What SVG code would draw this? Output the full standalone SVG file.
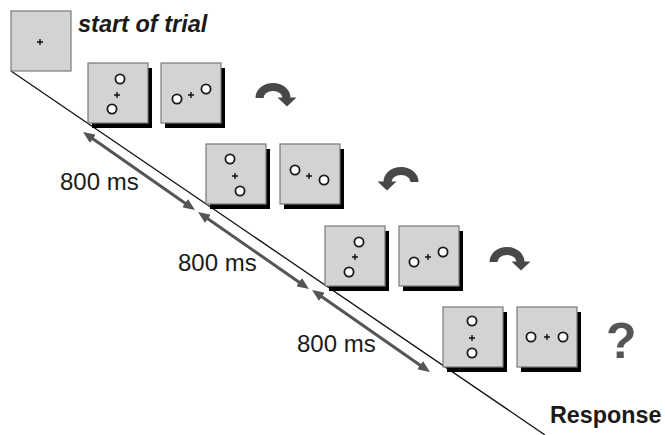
<svg xmlns="http://www.w3.org/2000/svg" width="665" height="435" viewBox="0 0 665 435">
<style>
.bg{fill:#ffffff}
.shadow{fill:#000000}
.box{fill:#d3d3d3;stroke:#7a7a7a;stroke-width:1.2}
.dot{fill:#ffffff;stroke:#1a1a1a;stroke-width:1.8}
.cross{stroke:#111111;stroke-width:1.4;fill:none}
.timeline{stroke:#111111;stroke-width:1.3;fill:none}
.dur{stroke:#555555;stroke-width:3;fill:none}
.turn{stroke:#484848;stroke-width:8;fill:none}
.turnhead{fill:#484848}
.lbl{font-family:"Liberation Sans",Arial,sans-serif;fill:#1a1a1a}
</style>
<defs>
<marker id="ah" markerUnits="userSpaceOnUse" markerWidth="12" markerHeight="10" refX="4" refY="5" orient="auto-start-reverse" viewBox="0 0 12 10">
<path d="M0,0 L12,5 L0,10 z" fill="#555555"/>
</marker>
<g id="turn">
<path class="turn" d="M -13.5 0 A 13.5 11 0 0 1 13.5 0"/>
<polygon class="turnhead" points="4.5,-0.5 23.5,-0.5 14,8.5"/>
</g>
<g id="cr"><path class="cross" d="M -3 0 H 3 M 0 -3 V 3"/></g>
</defs>
<rect class="bg" x="0" y="0" width="665" height="435"/>

<g id="connectors">
<line class="timeline" x1="11" y1="71" x2="545" y2="435"/>
<line class="dur" x1="89.6" y1="136.6" x2="188.4" y2="205.4" marker-start="url(#ah)" marker-end="url(#ah)"/>
<line class="dur" x1="204.6" y1="216.6" x2="302.4" y2="284.4" marker-start="url(#ah)" marker-end="url(#ah)"/>
<line class="dur" x1="318.6" y1="294.6" x2="423.4" y2="367.4" marker-start="url(#ah)" marker-end="url(#ah)"/>
<use href="#turn" transform="translate(273,98)"/>
<use href="#turn" transform="translate(401,182) scale(-1,1)"/>
<use href="#turn" transform="translate(507,262)"/>
</g>

<g id="start">
<rect class="box" x="11" y="11" width="60" height="60"/>
<use href="#cr" x="40" y="42"/>
<text class="lbl" x="78" y="32" font-size="23.5" font-weight="bold" font-style="italic">start of trial</text>
</g>

<g id="r1b1" transform="translate(88,63)">
<rect class="shadow" x="4" y="5" width="60" height="60"/>
<rect class="box" x="0" y="0" width="60" height="60"/>
<circle class="dot" cx="32" cy="16" r="4.6"/>
<circle class="dot" cx="24" cy="46" r="4.6"/>
<use href="#cr" x="29" y="32"/>
</g>
<g id="r1b2" transform="translate(161,63)">
<rect class="shadow" x="4" y="5" width="60" height="60"/>
<rect class="box" x="0" y="0" width="60" height="60"/>
<circle class="dot" cx="16" cy="36" r="4.6"/>
<circle class="dot" cx="45" cy="26" r="4.6"/>
<use href="#cr" x="30" y="32"/>
</g>

<g id="r2b1" transform="translate(206,144)">
<rect class="shadow" x="4" y="5" width="60" height="60"/>
<rect class="box" x="0" y="0" width="60" height="60"/>
<circle class="dot" cx="24" cy="15" r="4.6"/>
<circle class="dot" cx="34" cy="47" r="4.6"/>
<use href="#cr" x="29" y="32"/>
</g>
<g id="r2b2" transform="translate(280,144)">
<rect class="shadow" x="4" y="5" width="60" height="60"/>
<rect class="box" x="0" y="0" width="60" height="60"/>
<circle class="dot" cx="15" cy="26" r="4.6"/>
<circle class="dot" cx="44" cy="36" r="4.6"/>
<use href="#cr" x="29" y="32"/>
</g>

<g id="r3b1" transform="translate(325,226)">
<rect class="shadow" x="4" y="5" width="60" height="60"/>
<rect class="box" x="0" y="0" width="60" height="60"/>
<circle class="dot" cx="34" cy="16" r="4.6"/>
<circle class="dot" cx="24" cy="46" r="4.6"/>
<use href="#cr" x="30" y="31"/>
</g>
<g id="r3b2" transform="translate(399,226)">
<rect class="shadow" x="4" y="5" width="60" height="60"/>
<rect class="box" x="0" y="0" width="60" height="60"/>
<circle class="dot" cx="15" cy="36" r="4.6"/>
<circle class="dot" cx="44" cy="26" r="4.6"/>
<use href="#cr" x="29" y="31"/>
</g>

<g id="r4b1" transform="translate(443,307)">
<rect class="shadow" x="4" y="5" width="60" height="60"/>
<rect class="box" x="0" y="0" width="60" height="60"/>
<circle class="dot" cx="29" cy="14" r="4.6"/>
<circle class="dot" cx="29" cy="46" r="4.6"/>
<use href="#cr" x="29" y="31"/>
</g>
<g id="r4b2" transform="translate(517,307)">
<rect class="shadow" x="4" y="5" width="60" height="60"/>
<rect class="box" x="0" y="0" width="60" height="60"/>
<circle class="dot" cx="14" cy="30" r="4.6"/>
<circle class="dot" cx="46" cy="30" r="4.6"/>
<use href="#cr" x="30" y="30"/>
</g>

<g id="labels">
<text class="lbl" x="60" y="190" font-size="24">800 ms</text>
<text class="lbl" x="178" y="271" font-size="24">800 ms</text>
<text class="lbl" x="297" y="352" font-size="24">800 ms</text>
<text class="lbl" x="606" y="358" font-size="50" font-weight="bold" style="fill:#555555">?</text>
<text class="lbl" x="550" y="423" font-size="23.3" font-weight="bold">Response</text>
</g>
</svg>
